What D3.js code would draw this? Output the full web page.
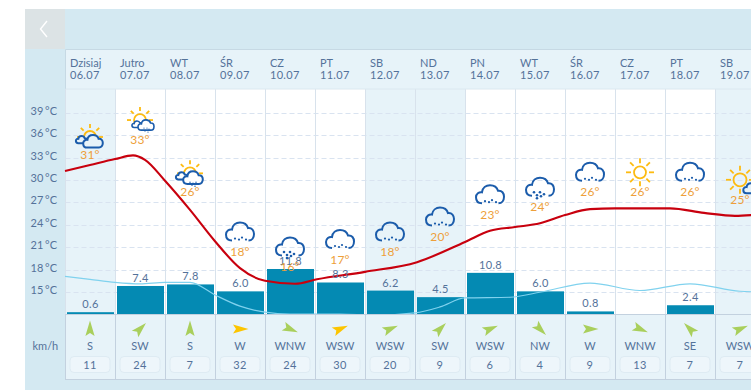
<!DOCTYPE html>
<html><head><meta charset="utf-8">
<script src="https://cdn.jsdelivr.net/npm/d3@7/dist/d3.min.js"></script>
<style>html,body{margin:0;padding:0;background:#fff;overflow:hidden}svg{display:block}text{font-family:Lato,"Open Sans",sans-serif}</style>
</head><body><svg id="c" width="751" height="390"></svg>
<script>
const dayNames=["Dzisiaj","Jutro","WT","ŚR","CZ","PT","SB","ND","PN","WT","ŚR","CZ","PT","SB"];
const dates=["06.07","07.07","08.07","09.07","10.07","11.07","12.07","13.07","14.07","15.07","16.07","17.07","18.07","19.07"];
const weekend=[0,6,7,13];
const tempTicks=[15,18,21,24,27,30,33,36,39];
const dayTemps=[31,33,26,18,16,17,18,20,23,24,26,26,26,25];
const icons=["sunCloud","sunStormSmall","sunStorm","rain","heavy","rain","rain","rain","rain","heavy","rain","sun","rain","sunSmall"];
const precip=[0.6,7.4,7.8,6.0,11.8,8.3,6.2,4.5,10.8,6.0,0.8,null,2.4,null];
const windDir=["S","SW","S","W","WNW","WSW","WSW","SW","WSW","NW","W","WNW","SE","WSW"];
const windSpeed=[11,24,7,32,24,30,20,9,6,4,9,13,7,7];
const tempPos=[0,.5,1,1.36,1.6,2,2.5,3,3.5,4,4.6,5.04,6,7.04,8,8.5,9,9.5,10,10.5,11,11.5,12.1,12.78,13.4,13.9];
const tempVals=[31.2,32,32.8,33.3,32.7,29.9,26,21.8,18.2,16.5,16.1,16.7,17.7,19,21.7,23.2,23.7,24.2,25.3,26.1,26.2,26.2,26.2,25.6,25.2,25.4];
const feelPos=[0,.5,1,1.5,2,2.5,3,3.5,4,4.5,5.5,6.2,7,7.5,8,8.9,9.52,10.5,11.5,12.5,13.5,13.9];
const feelVals=[17.1,16.7,16.3,16.1,16.3,16.3,14.6,13.1,12.3,12.05,12.05,11.9,12.2,13,14.2,14.3,15,16.2,15.2,16.1,15.1,15];
const compass={S:180,SW:225,WSW:247.5,W:270,WNW:292.5,NW:315,SE:135};

const svg=d3.select("#c");
const C={panel:"#d4e9f2",light:"#e7f3f9",text:"#54729a",grid:"#d9e3f0",col:"#d8e2ec",wline:"#c3d1df",bar:"#048ab3",
  red:"#c8000e",sky:"#80d2ee",orange:"#ee9f3a",cloud:"#1b5cab",sun:"#fdbb11",green:"#a9cf5c",yellow:"#fcc500"};
const plotL=65.5,colW=50,hdrT=49.5,hdrB=89,base=314.5,wBot=379.5;
const x=d3.scaleBand().domain(d3.range(dates.length)).range([plotL,plotL+colW*dates.length]);
const xp=d3.scaleLinear().domain([0,14]).range([65,765]);
const y=d3.scaleLinear().domain([15,39]).range([292,112.8]);
const h=d3.scaleLinear().domain([0,11.8]).range([base,269]);

svg.append("rect").attr("x",25).attr("y",9).attr("width",726).attr("height",381).attr("fill",C.panel);
svg.append("rect").attr("x",25).attr("y",9).attr("width",40).attr("height",40).attr("fill","#dce3e5");
svg.append("path").attr("d","M47,21 L40.5,29 L47,37").attr("fill","none").attr("stroke","#fff").attr("stroke-width",1.4);
svg.append("rect").attr("x",plotL).attr("y",hdrT).attr("width",690).attr("height",hdrB-hdrT).attr("fill",C.light);
svg.append("line").attr("x1",plotL).attr("x2",751).attr("y1",hdrT).attr("y2",hdrT).attr("stroke","#c6d9e4");
svg.append("line").attr("x1",plotL).attr("x2",plotL).attr("y1",hdrT).attr("y2",hdrB).attr("stroke","#c6d9e4");
svg.append("rect").attr("x",plotL).attr("y",hdrB).attr("width",690).attr("height",base-hdrB).attr("fill","#fff");
svg.selectAll(".we").data(weekend).join("rect").attr("x",d=>x(d)).attr("y",hdrB).attr("width",colW).attr("height",base-hdrB).attr("fill",C.light);

// grid
svg.selectAll(".g").data(tempTicks).join("line").attr("x1",plotL).attr("x2",751).attr("y1",d=>Math.round(y(d))+.5).attr("y2",d=>Math.round(y(d))+.5)
  .attr("stroke",C.grid).attr("stroke-dasharray","5 3");
svg.selectAll(".v").data(d3.range(0,15)).join("line").attr("x1",d=>plotL+d*colW).attr("x2",d=>plotL+d*colW).attr("y1",hdrB).attr("y2",base).attr("stroke",C.col);
svg.append("line").attr("x1",plotL).attr("x2",751).attr("y1",hdrB).attr("y2",hdrB).attr("stroke","#dbe8f0");

// axis labels
svg.selectAll(".yl").data(tempTicks).join("text").attr("x",57).attr("y",d=>y(d)+2).attr("text-anchor","end").attr("font-size",11).attr("word-spacing",-1).attr("fill",C.text).text(d=>d+" °C");

// header
const hdr=svg.selectAll(".h").data(dates).join("g").attr("transform",(d,i)=>`translate(${x(i)+4.5},0)`);
hdr.append("text").attr("y",67).attr("font-size",11).attr("fill",C.text).text((d,i)=>dayNames[i]);
hdr.append("text").attr("y",79).attr("font-size",11).attr("fill",C.text).attr("letter-spacing",.3).text(d=>d);

// bars
const bars=precip.map((v,i)=>({v,i})).filter(d=>d.v!=null);
svg.selectAll(".b").data(bars).join("rect").attr("x",d=>x(d.i)+1.5).attr("width",47).attr("y",d=>h(d.v)).attr("height",d=>base-h(d.v)).attr("fill",C.bar);

// lines
const ln=d3.line().curve(d3.curveMonotoneX);
svg.append("path").attr("d",ln(feelPos.map((p,i)=>[xp(p),y(feelVals[i])]))).attr("fill","none").attr("stroke",C.sky).attr("stroke-width",1.2);
svg.append("path").attr("d",ln(tempPos.map((p,i)=>[xp(p),y(tempVals[i])]))).attr("fill","none").attr("stroke",C.red).attr("stroke-width",2.1);

svg.selectAll(".bl").data(bars).join("text").attr("x",d=>x(d.i)+colW/2).attr("y",d=>h(d.v)-4).attr("text-anchor","middle").attr("font-size",11).attr("fill",C.text).attr("letter-spacing",.3).text(d=>d.v.toFixed(1));

// wind panel
svg.append("rect").attr("x",plotL).attr("y",base).attr("width",690).attr("height",wBot-base).attr("fill",C.light).attr("stroke",C.wline);
svg.selectAll(".wv").data(d3.range(1,14)).join("line").attr("x1",d=>plotL+d*colW).attr("x2",d=>plotL+d*colW).attr("y1",base).attr("y2",wBot).attr("stroke",C.wline);
svg.append("text").attr("x",32.5).attr("y",350).attr("font-size",11).attr("fill",C.text).text("km/h");
const wg=svg.selectAll(".w").data(windDir).join("g").attr("transform",(d,i)=>`translate(${x(i)+colW/2-.5},0)`);
wg.append("path").attr("d","M0,-8.5 L4.6,7 L0,4 L-4.6,7 Z").attr("transform",d=>`translate(0,329) rotate(${compass[d]-180})`)
  .attr("fill",(d,i)=>windSpeed[i]>=30?C.yellow:C.green);
wg.append("text").attr("y",350).attr("text-anchor","middle").attr("font-size",11).attr("fill",C.text).text(d=>d);
wg.append("rect").attr("x",-20).attr("y",356.5).attr("width",40).attr("height",16).attr("rx",4).attr("fill","#eef6fb").attr("stroke","#deebf3");
wg.append("text").attr("y",368.5).attr("text-anchor","middle").attr("font-size",11).attr("fill",C.text).attr("letter-spacing",.4).text((d,i)=>windSpeed[i]);

// icons
const cloudOpen="M-8,8 C-12.5,8 -14,5 -14,2 C-14,-1.5 -11,-3.5 -8,-3 C-7.5,-7.5 -4,-10 0,-10 C4,-10 7,-8 8,-4.5 C12,-5 14,-2 14,1.5 C14,5 12,8 8.5,8";
const cloudClosed=cloudOpen+" Z";
function drops(g,pts,r){g.append("g").selectAll("circle").data(pts).join("circle").attr("cx",d=>d[0]).attr("cy",d=>d[1]).attr("r",r).attr("fill",C.cloud);}
function sun(g,cx,cy,r,inner,outer,half){
  const a=half?d3.range(-90,91,45):d3.range(0,360,45);
  g.append("g").selectAll("line").data(a).join("line").attr("x1",d=>cx+inner*Math.sin(d*Math.PI/180)).attr("y1",d=>cy-inner*Math.cos(d*Math.PI/180))
   .attr("x2",d=>cx+outer*Math.sin(d*Math.PI/180)).attr("y2",d=>cy-outer*Math.cos(d*Math.PI/180)).attr("stroke",C.sun).attr("stroke-width",1.8);
  g.append("circle").attr("cx",cx).attr("cy",cy).attr("r",r).attr("fill","none").attr("stroke",C.sun).attr("stroke-width",1.8);
}
function cloud(g,tx,ty,s,closed,fill,sw){
  g.append("path").attr("d",closed?cloudClosed:cloudOpen).attr("transform",`translate(${tx},${ty}) scale(${s})`).attr("fill",fill||"none").attr("stroke",C.cloud).attr("stroke-width",(sw||2)/s);
}
const tg=svg.selectAll(".t").data(dayTemps).join("g").attr("transform",(d,i)=>`translate(${x(i)+colW/2-.5},${y(d+2.35)})`);
tg.append("text").attr("y",4).attr("text-anchor","middle").attr("font-size",12).attr("fill",C.orange).attr("letter-spacing",.2).text(d=>d+"°");
tg.each(function(d,i){
  const g=d3.select(this),k=icons[i];
  if(k==="rain"||k==="heavy"){
    cloud(g,0,-19.5,1,false);
    if(k==="rain")drops(g,[[-5,-13.5],[-1,-12.5],[2,-14.5],[6,-12.5]],1.1);
    else drops(g,[[-6,-15],[-3,-12],[0,-15],[1,-11],[4,-13],[-3,-9]],1.3);
  } else if(k==="sun"){
    sun(g,0,-20,6,9,14);
  } else if(k==="sunCloud"){
    sun(g,0,-18,6,9,13,true);
    cloud(g,-8.5,-15,.4,true,"#e7f3f9");
    cloud(g,3,-13,.7,true,"#e7f3f9");
  } else if(k==="sunStorm"){
    sun(g,0,-19,6,9,13,true);
    cloud(g,-8.5,-16,.4,true,"#fff");
    cloud(g,3,-14,.7,true,"#fff");
    drops(g,[[0,-10],[3,-9],[6,-10],[2,-7],[5,-6]],.7);
  } else if(k==="sunStormSmall"){
    sun(g,0,-20,6,9,13,true);
    cloud(g,-3,-15.5,.36,true,"#fff",1.6);
    cloud(g,6,-14.5,.57,true,"#fff",1.6);
    drops(g,[[4,-12],[7,-12],[9,-11],[5,-9],[8,-8]],.6);
  } else if(k==="sunSmall"){
    sun(g,0,-20,6.5,9,14);
    cloud(g,11,-11,.55,true,"#e7f3f9");
  }
});
</script></body></html>
